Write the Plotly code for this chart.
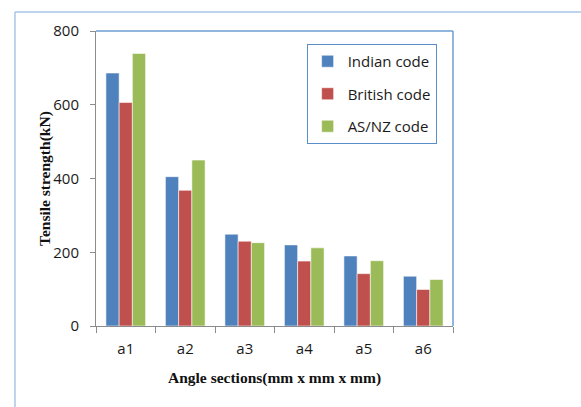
import plotly.graph_objects as go

# Tensile strength of angle sections under three design codes
sections = ["a1", "a2", "a3", "a4", "a5", "a6"]
indian_code = [686, 405, 249, 220, 190, 135]
british_code = [606, 368, 230, 176, 142, 99]
asnz_code = [739, 450, 226, 212, 177, 126]
y_ticks = [0, 200, 400, 600, 800]

series = [
    ("Indian code", indian_code, "#4F81BD"),
    ("British code", british_code, "#C0504D"),
    ("AS/NZ code", asnz_code, "#9BBB59"),
]

fig = go.Figure()
for name, values, color in series:
    fig.add_trace(go.Bar(
        x=sections, y=values, name=name, legendgroup=name,
        marker=dict(color=color, line=dict(color="rgba(255,255,255,0.55)", width=1)),
    ))

axis_font = dict(family="Open Sans, sans-serif", size=15, color="#1a1a1a")
title_font = dict(family="Liberation Serif, Times New Roman, serif", size=15.5, color="#111111")

fig.update_layout(
    width=581, height=407,
    margin=dict(l=96, r=128, t=31, b=81, autoexpand=False),
    paper_bgcolor="white", plot_bgcolor="white",
    barmode="group", bargap=0.333, bargroupgap=0,
    showlegend=True,
    legend=dict(
        x=0.59, y=0.956, xanchor="left", yanchor="top",
        bordercolor="#5B8DC9", borderwidth=1, bgcolor="white",
        font=dict(family="Open Sans, sans-serif", size=15, color="#1a1a1a"),
        tracegroupgap=10, itemwidth=30,
    ),
    xaxis=dict(
        showline=True, linecolor="#8C8C8C", linewidth=1,
        ticks="outside", tickson="boundaries", ticklen=6, tickcolor="#8C8C8C",
        tickfont=axis_font, ticklabelstandoff=9, showgrid=False,
        automargin=False,
    ),
    yaxis=dict(
        range=[0, 800], tickvals=y_ticks,
        showline=True, linecolor="#8C8C8C", linewidth=1,
        ticks="outside", ticklen=5, tickcolor="#8C8C8C",
        tickfont=axis_font, ticklabelstandoff=8, showgrid=False, zeroline=False,
        automargin=False,
    ),
    annotations=[
        dict(text="<b>Angle sections(mm x mm x mm)</b>", xref="paper", yref="paper",
             x=0.5, y=-0.176, xanchor="center", yanchor="middle", showarrow=False,
             font=title_font),
        dict(text="<b>Tensile strength(kN)</b>", xref="paper", yref="paper",
             x=-0.1443, y=0.5, xanchor="center", yanchor="middle", showarrow=False,
             textangle=-90, font=title_font),
    ],
)

# Blue frame on the top and right of the plot area
fig.add_shape(type="line", xref="paper", yref="paper", x0=0, y0=1, x1=1, y1=1,
              line=dict(color="#6E9FD5", width=1.5))
fig.add_shape(type="line", xref="paper", yref="paper", x0=1, y0=1, x1=1, y1=0,
              line=dict(color="#6E9FD5", width=1.5))

# Outer chart-area border (top and left edges)
fig.add_shape(type="line", xref="paper", yref="paper", x0=-0.227, y0=1.064, x1=1.5, y1=1.064,
              line=dict(color="#A9C6E8", width=1.5))
fig.add_shape(type="line", xref="paper", yref="paper", x0=-0.227, y0=1.064, x1=-0.227, y1=-0.4,
              line=dict(color="#A9C6E8", width=1.5))

fig.write_html("out.html")
